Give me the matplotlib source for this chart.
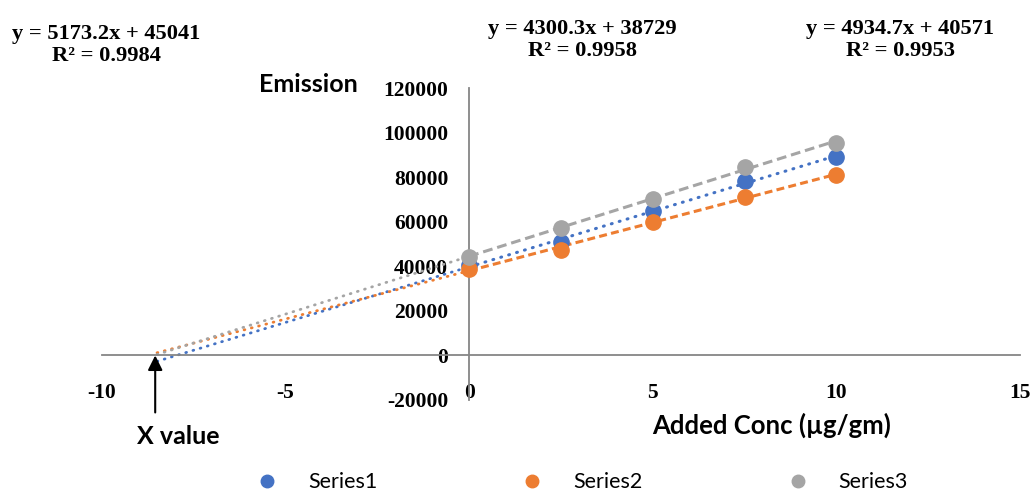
import numpy as np
import matplotlib
matplotlib.use('Agg')
import matplotlib.pyplot as plt
from matplotlib.lines import Line2D

# data
conc = [0, 2.5, 5, 7.5, 10]
series1 = [40400, 50900, 64900, 78200, 89100]
series2 = [39000, 47200, 59900, 71100, 81200]
series3 = [44200, 57400, 70400, 84600, 95400]
names = ['Series1', 'Series2', 'Series3']
colors = ['#4472C4', '#ED7D31', '#A5A5A5']
eq_texts = ['y = 4934.7x + 40571\nR\u00b2 = 0.9953',
            'y = 4300.3x + 38729\nR\u00b2 = 0.9958',
            'y = 5173.2x + 45041\nR\u00b2 = 0.9984']

back_forecast = -8.5
arrow_x = -8.55

plt.rcParams['axes.unicode_minus'] = False

serif = {'family': 'Liberation Serif', 'weight': 'bold'}
sans = {'family': 'Lato', 'weight': 'bold'}

fig = plt.figure(figsize=(10.33, 4.92), dpi=100)
ax = fig.add_axes([0.0987, 0.187, 0.8887, 0.634])

dash_styles = [(0, (0.3, 2.4)), (0, (2.6, 1.4)), (0, (3.2, 1.6))]
caps = ['round', 'butt', 'butt']
for ys, col, ls, cap in zip([series1, series2, series3], colors, dash_styles, caps):
    k, b = np.polyfit(conc, ys, 1)
    xb = np.array([back_forecast, 0])
    ax.plot(xb, k * xb + b, color=col, lw=2.0, linestyle=(0, (0.3, 2.4)),
            dash_capstyle='round', zorder=2)
    xf = np.array([0, conc[-1]])
    ax.plot(xf, k * xf + b, color=col, lw=2.2, linestyle=ls,
            dash_capstyle=cap, zorder=2)
    ax.plot(conc, ys, 'o', color=col, markersize=11, zorder=3)

ax.set_xlim(-10, 15)
ax.set_ylim(-20000, 120000)
ax.set_xticks([-10, -5, 0, 5, 10, 15])
ax.set_yticks(np.arange(-20000, 120001, 20000))

for s in ['top', 'right']:
    ax.spines[s].set_visible(False)
ax.spines['left'].set_position(('data', 0))
ax.spines['bottom'].set_position(('data', 0))
for s in ['left', 'bottom']:
    ax.spines[s].set_color('#868686')
    ax.spines[s].set_linewidth(1.3)

ax.tick_params(axis='both', length=0)
ax.tick_params(axis='x', pad=20)
ax.tick_params(axis='y', pad=15)
for lab in ax.get_xticklabels() + ax.get_yticklabels():
    lab.set_fontfamily('Liberation Serif')
    lab.set_fontweight('bold')
    lab.set_fontsize(15.5)

# arrow for x value
ax.annotate('', xy=(arrow_x, 0), xytext=(arrow_x, -25600),
            arrowprops=dict(arrowstyle='-|>', color='black', lw=1.5,
                            mutation_scale=22, shrinkA=0, shrinkB=0),
            annotation_clip=False)
fig.text(137 / 1033, 1 - 437 / 492, 'X value', fontdict=sans, fontsize=18,
         ha='left', va='center')

# axis titles
fig.text(259 / 1033, 1 - 85 / 492, 'Emission', fontdict=sans, fontsize=18,
         ha='left', va='center')
fig.text(652 / 1033, 1 - 425 / 492, 'Added Conc (\u00b5g/gm)', fontdict=sans,
         fontsize=18.5, ha='left', va='center')

# trendline equations
fig.text(106 / 1033, 1 - 45 / 492, eq_texts[2], fontdict=serif, fontsize=16.2,
         ha='center', va='center', linespacing=1.1)
fig.text(582 / 1033, 1 - 40 / 492, eq_texts[1], fontdict=serif, fontsize=16.2,
         ha='center', va='center', linespacing=1.1)
fig.text(900 / 1033, 1 - 40 / 492, eq_texts[0], fontdict=serif, fontsize=16.2,
         ha='center', va='center', linespacing=1.1)

handles = [Line2D([], [], marker='o', linestyle='none', color=c, markersize=9)
           for c in colors]
fig.legend(handles, names, loc='center', bbox_to_anchor=(0.5636, 0.02),
           ncol=3, frameon=False, handlelength=1, handletextpad=1.4,
           columnspacing=6.7, prop={'family': 'Lato', 'size': 15.5})

fig.savefig('out.png', dpi=100)
